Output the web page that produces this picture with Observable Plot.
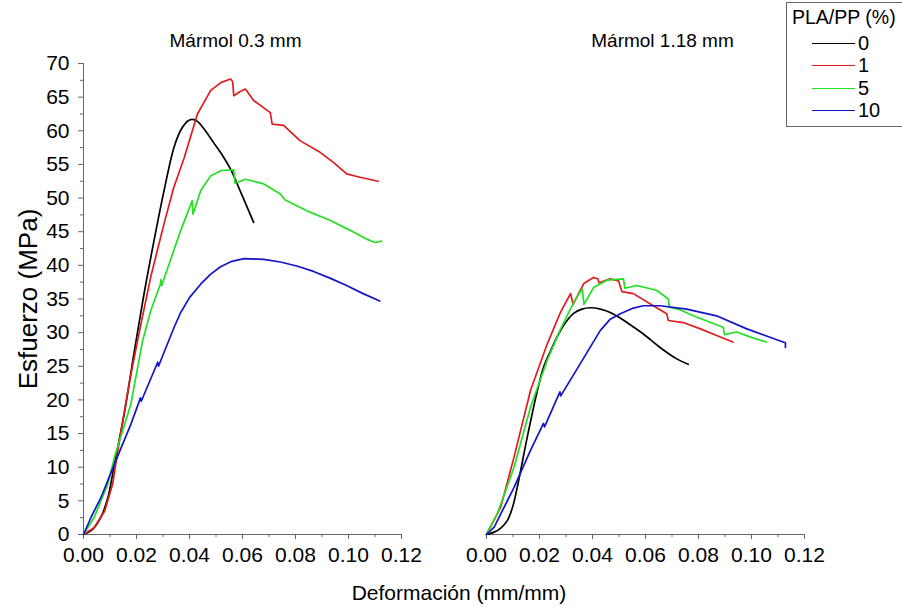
<!DOCTYPE html>
<html>
<head>
<meta charset="utf-8">
<script src="https://cdn.jsdelivr.net/npm/d3@7"></script>
<script src="https://cdn.jsdelivr.net/npm/@observablehq/plot@0.6"></script>
<style>
  html, body { margin: 0; padding: 0; background: #fff; }
  #wrap { position: relative; width: 902px; height: 609px; overflow: hidden; font-family: "Liberation Sans", Arial, sans-serif; }
  #xlabel { position: absolute; left: 0; width: 918px; top: 581px; text-align: center; font-size: 21px; color: #000; }
  #legend { position: absolute; left: 786px; top: 2px; width: 130px; height: 125px; border: 1px solid #666; background: #fff; box-sizing: border-box; }
  #legend .title { position: absolute; left: 5px; top: 3px; font-size: 19.5px; color: #000; white-space: nowrap; }
  #legend .row { position: absolute; left: 25px; height: 22px; display: flex; align-items: center; font-size: 20px; color: #000; }
  #legend .row span.l { display: inline-block; width: 43px; height: 0; border-top: 1.6px solid; margin-right: 3px; }
</style>
</head>
<body>
<div id="wrap"></div>
<script>
const panels = ["Mármol 0.3 mm", "Mármol 1.18 mm"];
const series = ["0", "1", "5", "10"];
const colors = ["#000000", "#e01c1c", "#22e022", "#1414c8"];
const legendTitle = "PLA/PP (%)";
const xTitle = "Deformación (mm/mm)";
const yTitle = "Esfuerzo (MPa)";
const xMajor = [0, 0.02, 0.04, 0.06, 0.08, 0.10, 0.12];
const xMinor = [0.01, 0.03, 0.05, 0.07, 0.09, 0.11];
const yMajor = [0, 5, 10, 15, 20, 25, 30, 35, 40, 45, 50, 55, 60, 65, 70];
const yMinor = [2.5, 7.5, 12.5, 17.5, 22.5, 27.5, 32.5, 37.5, 42.5, 47.5, 52.5, 57.5, 62.5, 67.5];

// Mármol 0.3 mm
const a0 = [[0,0],[0.003,0.6],[0.0066,2.6],[0.0092,5.5],[0.0117,10.5],[0.0154,18],[0.0192,27.3],[0.0225,35],[0.0254,41.2],[0.0304,51.1],[0.0342,57.6],[0.037,60.3],[0.0395,61.5],[0.041,61.7],[0.043,61.4],[0.046,60],[0.049,58.3],[0.0525,56.3],[0.0555,54.3],[0.0592,51],[0.0642,46.4]];
const a1 = [[0,0],[0.004,1],[0.008,3.5],[0.011,7.5],[0.0142,15.5],[0.0175,23],[0.021,30],[0.0255,38.5],[0.0304,46.2],[0.034,51.5],[0.038,56],[0.043,62.5],[0.048,66],[0.052,67.2],[0.0555,67.7],[0.0563,67.3],[0.0567,65.2],[0.059,65.8],[0.0611,66.2],[0.0642,64.5],[0.0705,62.7],[0.0712,61],[0.0755,60.8],[0.0818,58.5],[0.0893,56.8],[0.0943,55.3],[0.0993,53.6],[0.1043,53.1],[0.1112,52.5]];
const a5 = [[0,0],[0.0041,2.6],[0.0092,7.5],[0.0117,11.5],[0.0179,19.4],[0.0223,28.8],[0.0254,33.3],[0.029,37.2],[0.0292,37.9],[0.0295,37],[0.0367,45.2],[0.041,49.6],[0.0413,47.6],[0.0442,51.1],[0.048,53.3],[0.052,54.1],[0.0567,54.2],[0.0572,52.2],[0.0611,52.8],[0.068,52.1],[0.0743,50.6],[0.0761,49.7],[0.0843,48.1],[0.093,46.7],[0.1006,45.2],[0.1068,43.9],[0.11,43.4],[0.1125,43.6]];
const a10 = [[0,0],[0.0029,2.6],[0.0066,5.5],[0.0117,10.5],[0.0179,16.4],[0.0215,20.3],[0.0218,19.8],[0.028,25.6],[0.0283,25],[0.0342,30.8],[0.0367,33],[0.04,35.2],[0.0442,37.2],[0.048,38.7],[0.0517,39.8],[0.056,40.6],[0.0605,41],[0.068,40.9],[0.0743,40.5],[0.0805,39.9],[0.0868,39.1],[0.093,38.1],[0.0993,37],[0.1055,35.8],[0.1118,34.7]];
// Mármol 1.18 mm
const b0 = [[0,0],[0.0029,0.35],[0.0055,1],[0.0079,2.1],[0.0098,4],[0.0116,7],[0.0154,14.5],[0.0192,21.4],[0.0215,24.8],[0.0242,27.3],[0.0272,29.8],[0.0304,31.8],[0.033,32.9],[0.036,33.5],[0.0392,33.7],[0.043,33.5],[0.0467,33],[0.05,32.3],[0.053,31.5],[0.0592,29.8],[0.0655,27.8],[0.0718,26.1],[0.0761,25.3]];
const b1 = [[0,0],[0.0054,4.1],[0.0104,11.5],[0.0166,21.4],[0.0229,28.3],[0.0279,33],[0.0317,35.8],[0.0327,34.2],[0.0367,37.3],[0.0404,38.2],[0.042,38],[0.0425,37.4],[0.0467,38],[0.0498,37.7],[0.0511,36.1],[0.0554,35.8],[0.0617,34.3],[0.068,32.8],[0.0686,31.8],[0.0742,31.5],[0.0805,30.6],[0.088,29.4],[0.093,28.6]];
const b5 = [[0,0],[0.0041,3.1],[0.0104,10],[0.0166,18.9],[0.0229,25.9],[0.0279,30.5],[0.0329,34.5],[0.0361,36.5],[0.0368,34.2],[0.0404,36.7],[0.0455,37.8],[0.0517,38],[0.0522,36.6],[0.0567,37],[0.0642,36.3],[0.0686,35],[0.069,33.8],[0.073,33.4],[0.078,32.5],[0.0893,30.8],[0.0898,29.7],[0.0943,30.1],[0.1,29.3],[0.1056,28.6]];
const b10 = [[0,0],[0.0029,1.1],[0.0104,7],[0.0166,12.5],[0.0215,16.5],[0.0219,16],[0.0277,21.2],[0.028,20.6],[0.0354,25.4],[0.0429,30.3],[0.0467,32],[0.0505,32.8],[0.055,33.6],[0.0592,34],[0.0655,34],[0.0755,33.5],[0.0868,32.5],[0.098,30.6],[0.1106,28.8],[0.1128,28.5],[0.1128,27.8]];

const curves = [
  [panels[0], series[0], a0], [panels[0], series[1], a1], [panels[0], series[2], a5], [panels[0], series[3], a10],
  [panels[1], series[0], b0], [panels[1], series[1], b1], [panels[1], series[2], b5], [panels[1], series[3], b10]
];
const data = curves.flatMap(([panel, s, pts]) => pts.map(([x, y]) => ({panel, series: s, x, y})));

const axisStroke = "#666";
const chart = Plot.plot({
  width: 902, height: 609,
  marginLeft: 82, marginRight: 97, marginTop: 63, marginBottom: 75,
  style: {fontFamily: "'Liberation Sans', Arial, sans-serif", background: "white", color: "black"},
  fx: {domain: panels, paddingInner: 0.21, paddingOuter: 0},
  x: {domain: [0, 0.12]},
  y: {domain: [0, 70]},
  color: {domain: series, range: colors},
  marks: [
    Plot.axisFx({ticks: [panels[0]], anchor: "top", tickSize: 0, tickPadding: 17, fontSize: 19, label: null, dx: -7}),
    Plot.axisFx({ticks: [panels[1]], anchor: "top", tickSize: 0, tickPadding: 17, fontSize: 19, label: null, dx: 17}),
    Plot.axisX({ticks: xMajor, tickFormat: d => d.toFixed(2), tickSize: 5, tickPadding: 8, fontSize: 21, label: null, stroke: axisStroke, fill: "black"}),
    Plot.axisX({ticks: xMinor, tickSize: 3, text: null, label: null, stroke: axisStroke}),
    Plot.axisY({ticks: yMajor, tickSize: 5, tickPadding: 9, fontSize: 21, label: null, stroke: axisStroke, fill: "black"}),
    Plot.axisY({ticks: yMinor, tickSize: 3, text: null, label: yTitle, labelAnchor: "center", labelArrow: "none", labelOffset: 65, fontSize: 26, stroke: axisStroke, fill: "black"}),
    Plot.ruleY([0], {stroke: axisStroke}),
    Plot.ruleX([{fx: panels[0], x: 0}], {x: "x", fx: "fx", y1: 0, y2: 70, stroke: axisStroke}),
    Plot.line(data, {filter: d => d.series === "0", x: "x", y: "y", fx: "panel", z: "series", stroke: "series", strokeWidth: 1.7, curve: "catmull-rom"}),
    Plot.line(data, {filter: d => d.series !== "0", x: "x", y: "y", fx: "panel", z: "series", stroke: "series", strokeWidth: 1.7, strokeLinejoin: "round"})
  ]
});

const wrap = d3.select("#wrap");
wrap.node().appendChild(chart);
wrap.append("div").attr("id", "xlabel").text(xTitle);
const lg = wrap.append("div").attr("id", "legend");
lg.append("div").attr("class", "title").text(legendTitle);
series.forEach((s, i) => {
  const r = lg.append("div").attr("class", "row").style("top", (29 + i * 22.5) + "px");
  r.append("span").attr("class", "l").style("border-color", colors[i]);
  r.append("span").text(s);
});
</script>
</body>
</html>
